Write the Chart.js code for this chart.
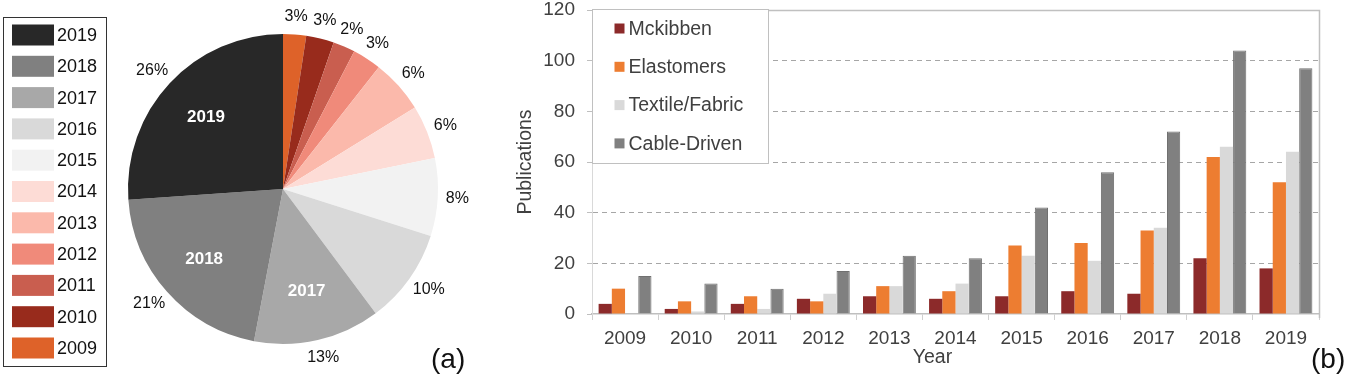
<!DOCTYPE html>
<html><head><meta charset="utf-8">
<script src="https://cdn.jsdelivr.net/npm/chart.js@4/dist/chart.umd.min.js"></script>
<style>
html,body{margin:0;padding:0;background:#fff;overflow:hidden}
#wrap{position:relative;width:1346px;height:384px}
</style></head><body>
<div id="wrap">
<canvas id="pie" width="480" height="384" style="position:absolute;left:0;top:0"></canvas>
<canvas id="bar" width="856" height="384" style="position:absolute;left:490px;top:0"></canvas>
</div>
<script>
// ---- Pie (a) data ----
const pieYears = ['2009','2010','2011','2012','2013','2014','2015','2016','2017','2018','2019'];
const pieShares = [2.4, 2.9, 2.3, 3.0, 5.6, 5.6, 8.1, 9.9, 13.2, 20.9, 26.1];
const piePercentLabels = ['3%','3%','2%','3%','6%','6%','8%','10%','13%','21%','26%'];
const pieInsideLabels = ['2017','2018','2019'];
const pieColors = ['#de6229','#982b1c','#c95e4f','#f08a7a','#fbb9ab','#fddcd6','#f2f2f2','#d9d9d9','#a8a8a8','#808080','#282828'];

// ---- Bar (b) data ----
const barYears = ['2009','2010','2011','2012','2013','2014','2015','2016','2017','2018','2019'];
const mckibben    = [4, 2, 4, 6, 7, 6, 7, 9, 8, 22, 18];
const elastomers  = [10, 5, 7, 5, 11, 9, 27, 28, 33, 62, 52];
const textile     = [0, 1, 2, 8, 11, 12, 23, 21, 34, 66, 64];
const cableDriven = [15, 12, 10, 17, 23, 22, 42, 56, 72, 104, 97];
const yTicks = [0, 20, 40, 60, 80, 100, 120];

const FONT = "'Liberation Sans', Arial, sans-serif";

const pieLabelPlugin = {
  id: 'pieLabels',
  afterDatasetsDraw(chart) {
    const ctx = chart.ctx;
    const meta = chart.getDatasetMeta(0);
    ctx.save();
    ctx.textBaseline = 'middle';
    ctx.textAlign = 'center';
    meta.data.forEach((arc, i) => {
      const mid = (arc.startAngle + arc.endAngle) / 2;
      const r = arc.outerRadius;
      const c = Math.cos(mid), s = Math.sin(mid);
      ctx.font = '16px ' + FONT;
      ctx.fillStyle = '#111';
      const txt = piePercentLabels[i];
      const w = ctx.measureText(txt).width;
      const x = arc.x + c * (r + 8) + c * w / 2;
      const y = arc.y + s * (r + 9) + s * 9;
      ctx.fillText(txt, x, y);
      if (pieInsideLabels.includes(chart.data.labels[i])) {
        ctx.font = 'bold 17px ' + FONT;
        ctx.fillStyle = '#fff';
        ctx.fillText(chart.data.labels[i], arc.x + c * r * 0.68, arc.y + s * r * 0.68);
      }
    });
    ctx.restore();
  },
  afterDraw(chart) {
    const ctx = chart.ctx;
    const ds = chart.data.datasets[0];
    const n = chart.data.labels.length;
    ctx.save();
    ctx.strokeStyle = '#333';
    ctx.lineWidth = 1;
    ctx.strokeRect(3.5, 17.5, 103, 349);
    ctx.font = '18px ' + FONT;
    ctx.textBaseline = 'middle';
    ctx.textAlign = 'left';
    for (let k = 0; k < n; k++) {
      const i = n - 1 - k;
      const yc = 35 + k * 31.3;
      ctx.fillStyle = ds.backgroundColor[i];
      ctx.fillRect(12, yc - 10.5, 42, 21);
      ctx.fillStyle = '#111';
      ctx.fillText(chart.data.labels[i], 57, yc + 1);
    }
    ctx.font = '28px ' + FONT;
    ctx.fillText('(a)', 431, 360);
    ctx.restore();
  }
};

new Chart(document.getElementById('pie'), {
  type: 'pie',
  data: { labels: pieYears, datasets: [{ data: pieShares, backgroundColor: pieColors, borderWidth: 0 }] },
  options: {
    responsive: false, animation: false,
    layout: { padding: { left: 128, right: 42, top: 34, bottom: 40 } },
    plugins: { legend: { display: false }, tooltip: { enabled: false } }
  },
  plugins: [pieLabelPlugin]
});

const barDecor = {
  id: 'barDecor',
  afterDraw(chart) {
    const ctx = chart.ctx;
    const a = chart.chartArea;
    ctx.save();
    // frame top and right
    ctx.strokeStyle = '#c0c0c0';
    ctx.lineWidth = 1.5;
    ctx.beginPath();
    ctx.moveTo(a.left, a.top + 0.5);
    ctx.lineTo(a.right + 0.5, a.top + 0.5);
    ctx.lineTo(a.right + 0.5, a.bottom + 4);
    ctx.stroke();
    // legend box
    const lx = a.left + 0.5, ly = a.top - 0.5, lw = 176, lh = 154;
    ctx.fillStyle = '#fff';
    ctx.fillRect(lx, ly, lw, lh);
    ctx.strokeStyle = '#c0c0c0';
    ctx.lineWidth = 1;
    ctx.strokeRect(lx, ly, lw, lh);
    ctx.font = '19.5px ' + FONT;
    ctx.textBaseline = 'middle';
    ctx.textAlign = 'left';
    chart.data.datasets.forEach((ds, i) => {
      const yc = ly + 19 + i * 38.3;
      ctx.fillStyle = ds.backgroundColor;
      ctx.fillRect(lx + 22, yc - 5, 10, 10);
      ctx.fillStyle = '#404040';
      ctx.fillText(ds.label, lx + 36, yc + 1);
    });
    // axis title Year
    ctx.textAlign = 'center';
    ctx.fillText('Year', (a.left + a.right) / 2 - 23, 358);
    ctx.font = '28px ' + FONT;
    ctx.fillStyle = '#111';
    ctx.textAlign = 'left';
    ctx.fillText('(b)', 821, 360);
    ctx.restore();
  }
};

new Chart(document.getElementById('bar'), {
  type: 'bar',
  data: {
    labels: barYears,
    datasets: [
      { label: 'Mckibben', data: mckibben, backgroundColor: '#8c2a2a' },
      { label: 'Elastomers', data: elastomers, backgroundColor: '#ed7d31' },
      { label: 'Textile/Fabric', data: textile, backgroundColor: '#d9d9d9' },
      { label: 'Cable-Driven', data: cableDriven, backgroundColor: '#808080', borderColor: '#707070', borderWidth: 1 }
    ]
  },
  options: {
    responsive: false, animation: false,
    layout: { padding: { left: 20, right: 27, top: 10, bottom: 0 } },
    datasets: { bar: { categoryPercentage: 0.8, barPercentage: 1.0 } },
    scales: {
      x: {
        grid: { drawOnChartArea: false, drawTicks: true, tickLength: 6, color: '#d0d0d0', offset: true },
        border: { color: '#bfbfbf', width: 1.5 },
        ticks: { color: '#404040', font: { size: 19, family: FONT }, padding: 7 },
        afterFit(s) { s.height = 70; s.paddingLeft = 0; s.paddingRight = 0; }
      },
      y: {
        min: 0, max: 120,
        afterBuildTicks(s) { s.ticks = yTicks.map(v => ({ value: v })); },
        ticks: { color: '#404040', font: { size: 19, family: FONT }, padding: 12 },
        grid: {
          color: c => (c.tick && (c.tick.value === 0 || c.tick.value === 120)) ? 'rgba(0,0,0,0)' : '#a6a6a6',
          tickColor: '#bfbfbf', tickLength: 5, tickBorderDash: [],
          lineWidth: 1
        },
        border: { display: true, color: '#d9d9d9', dash: [5, 4] },
        title: { display: true, text: 'Publications', color: '#404040', font: { size: 19.5, family: FONT } },
        afterFit(s) { s.width = 82; s.paddingTop = 0; s.paddingBottom = 0; }
      }
    },
    plugins: { legend: { display: false }, tooltip: { enabled: false } }
  },
  plugins: [barDecor]
});
</script>
</body></html>
